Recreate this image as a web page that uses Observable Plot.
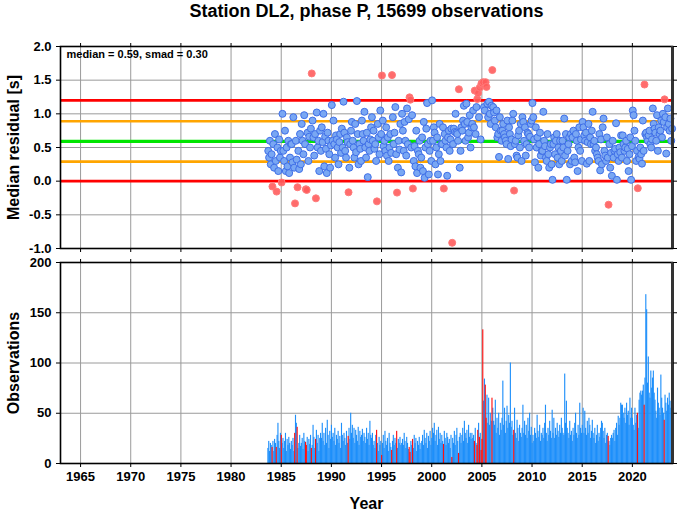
<!DOCTYPE html>
<html><head><meta charset="utf-8">
<script src="https://cdn.jsdelivr.net/npm/d3@7"></script>
<script src="https://cdn.jsdelivr.net/npm/@observablehq/plot@0.6"></script>
<style>
body{margin:0;background:#fff;}
#chart{position:relative;width:678px;height:511px;background:#fff;}
#chart svg{position:absolute;left:0;}
</style></head><body><div id="chart"></div>
<script>
const title = "Station DL2, phase P, 15699 observations";
const firstYear = 1983, firstMonth = 9; // monthly series starts September 1983
const median = 0.59, smad = 0.30, upperLimit = 1.2, lowerLimit = 0.0;
const yearTicks = [1965, 1970, 1975, 1980, 1985, 1990, 1995, 2000, 2005, 2010, 2015, 2020];
const residualTicks = [-1.0, -0.5, 0.0, 0.5, 1.0, 1.5, 2.0];
const countTicks = [0, 50, 100, 150, 200];

// monthly median residual [s]
const residuals = [
  0.45, 0.35, 0.60, 0.25,
  0.40, -0.08, 0.55, 0.20, 0.70, 0.30, -0.155, 0.50, 0.15, 0.62, 0.35, 0.45,
  -0.02, 1.00, 0.45, 0.30, 0.75, 0.15, 0.50, 0.22, 0.60, 0.12, 0.35, 0.55,
  0.55, 0.28, 0.95, 0.20, -0.33, 0.60, 0.32, -0.09, 0.45, 0.18, 0.70, 0.25,
  0.85, 0.60, 0.40, 0.98, 0.55, -0.12, -0.13, 0.72, 0.30, 0.66, 0.50, 0.78,
  1.60, 0.90, 0.65, 0.38, 0.70, -0.255, 1.02, 0.50, 0.60, 0.15, 0.75, 0.45,
  0.80, 0.58, 1.00, 0.22, 0.66, 0.48, 0.12, 0.72, 0.60, 0.40, 0.20, 0.53,
  1.13, 0.60, 0.90, 0.55, 0.35, 0.68, 0.62, 0.50, 0.25, 0.58, 0.70, 0.42,
  0.78, 0.50, 1.18, 0.72, 0.45, 0.35, 0.65, 0.58, -0.165, 0.20, 0.55, 0.75,
  0.88, 0.60, 0.50, 0.35, 0.85, 0.43, 1.19, 0.70, 0.25, 0.55, 0.48, 0.30,
  0.90, 0.70, 0.60, 1.03, 0.50, 0.35, 0.72, 0.06, 0.55, 0.45, 0.62, 0.80,
  0.95, 0.60, 0.75, 0.48, 0.55, 0.30, -0.30, 0.85, 0.65, 0.40, 1.05, 0.70,
  1.57, 0.90, 0.52, 0.60, 0.45, 0.80, 0.38, 0.65, 0.30, 0.50, 0.70, 0.42,
  1.575, 0.95, 0.55, 0.72, 1.10, 0.40, -0.17, 0.20, 0.60, 0.47, 0.85, 0.13,
  1.00, 0.75, 0.45, 0.88, 0.60, 0.38, 1.08, 0.55, 0.92, 1.245, 1.21, 0.50,
  0.98, -0.11, 0.30, 0.52, 0.22, 0.75, 0.12, 0.45, 0.40, 0.60, 0.20, 0.35,
  0.65, 0.15, 0.88, 0.05, 0.50, 0.78, 1.16, 0.55, 0.10, 0.45, 0.60, 0.30,
  1.20, 0.60, 0.80, 0.72, 0.25, 0.50, 0.65, 0.10, 0.40, 0.85, 0.30, 0.55,
  0.55, 0.80, -0.11, 0.70, 0.60, 0.50, 0.08, 0.65, 0.75, 0.45, 0.62, 0.78,
  -0.915, 0.55, 0.78, 0.73, 1.00, 0.72, 0.70, 0.60, 1.365, 0.20, 0.45, 0.80,
  0.75, 0.90, 1.12, 0.85, 0.60, 1.15, 0.88, 0.65, 0.72, 0.98, 0.50, 0.80,
  0.85, 1.05, 0.80, 1.345, 0.70, 1.10, 1.22, 1.31, 0.95, 1.39, 0.62, 1.45,
  1.45, 1.47, 1.10, 1.05, 1.47, 1.40, 1.15, 0.95, 1.18, 1.00, 0.85, 1.12,
  1.65, 1.10, 1.02, 0.90, 0.80, 1.05, 0.65, 0.70, 0.36, 0.95, 0.75, 0.60,
  0.75, 0.85, 0.70, 0.65, 0.60, 0.55, 0.90, 0.33, 0.80, 0.70, 0.52, 0.62,
  0.90, 1.00, -0.14, 0.55, 0.60, 0.38, 0.35, 0.68, 0.75, 0.50, 0.85, 0.30,
  0.95, 0.88, 0.60, 0.80, 0.38, 0.55, 0.72, 0.70, 0.50, 0.66, 0.85, 0.90,
  1.16, 0.95, 0.62, 0.28, 0.80, 0.50, 0.65, 0.20, 0.55, 0.72, 0.38, 0.45,
  0.45, 1.03, 0.60, 0.52, 0.35, 0.30, 0.70, 0.40, 0.20, 0.50, 0.55, 0.25,
  0.02, 0.55, 0.65, 0.40, 0.60, 0.70, 0.35, 0.50, 0.25, 0.60, 0.45, 0.30,
  0.60, 0.50, 0.93, 0.38, 0.70, 0.02, 0.45, 0.55, 0.65, 0.25, 0.70, 0.30,
  0.65, 0.75, 0.35, 0.28, 0.70, 0.60, 0.15, 0.50, 0.80, 0.45, 0.62, 0.30,
  0.88, 0.80, 0.68, 0.60, 0.72, 0.26, 0.58, 0.85, 0.30, 0.65, 0.55, 0.75,
  1.03, 0.55, 0.60, 0.45, 0.50, 0.40, 0.35, 0.30, 0.70, 0.16, 0.62, 0.25,
  0.80, 0.93, 0.45, 0.38, 0.30, 0.65, 0.35, -0.35, 0.55, 0.20, 0.42, 0.08,
  0.60, 0.35, 0.45, 0.48, 0.86, 0.02, 0.40, 0.30, 0.50, 0.43, 0.68, 0.35,
  0.68, 0.55, 0.45, 0.50, 0.60, 0.30, 0.48, 0.15, 0.40, 0.65, 0.02, 0.52,
  1.05, 0.98, 0.75, 0.60, 0.30, 0.45, -0.105, 0.36, 0.33, 0.50, 0.40, 0.26,
  0.90, 0.45, 1.435, 0.70, 0.72, 0.65, 0.60, 0.68, 0.75, 0.55, 0.50, 0.62,
  1.08, 0.85, 0.78, 0.72, 0.60, 0.98, 0.45, 0.80, 0.70, 0.75, 0.90, 0.65,
  1.00, 0.88, 1.215, 0.95, 0.41, 0.80, 1.08, 0.85, 0.75, 0.93, 0.60, 0.78
];

// monthly number of observations
const counts = [
  15, 22, 12, 20,
  18, 16, 22, 12, 24, 20, 16, 28, 40, 22, 15, 30,
  28, 20, 25, 15, 22, 30, 12, 24, 18, 26, 20, 14,
  22, 18, 25, 12, 30, 48, 40, 36, 15, 20, 28, 17,
  20, 25, 14, 30, 22, 21, 18, 26, 12, 24, 19, 28,
  15, 18, 38, 26, 15, 24, 33, 20, 28, 12, 25, 30,
  25, 40, 22, 30, 18, 35, 20, 43, 28, 15, 32, 24,
  38, 26, 30, 22, 35, 18, 28, 24, 32, 20, 27, 15,
  40, 28, 22, 30, 25, 18, 32, 20, 27, 35, 24, 50,
  30, 38, 25, 35, 20, 33, 28, 22, 36, 18, 32, 26,
  28, 34, 22, 30, 26, 20, 35, 24, 30, 18, 42, 28,
  25, 30, 18, 22, 15, 28, 33, 20, 12, 26, 18, 22,
  8, 20, 28, 15, 32, 22, 18, 25, 12, 30, 20, 16,
  13, 22, 28, 18, 25, 20, 32, 15, 24, 20, 26, 18,
  20, 24, 18, 30, 22, 15, 26, 20, 14, 16, 11, 22,
  18, 24, 15, 28, 20, 25, 12, 22, 18, 26, 14, 20,
  22, 28, 18, 33, 25, 20, 30, 15, 27, 22, 32, 18,
  25, 35, 30, 40, 22, 28, 33, 18, 36, 24, 30, 20,
  28, 22, 19, 32, 25, 18, 30, 26, 20, 24, 15, 28,
  6, 25, 20, 32, 18, 28, 35, 22, 10, 26, 30, 20,
  28, 35, 22, 42, 30, 25, 33, 20, 38, 26, 30, 24,
  30, 25, 28, 22, 35, 20, 18, 33, 40, 26, 30, 13,
  24, 133, 62, 84, 78, 45, 68, 40, 65, 38, 50, 42,
  65, 55, 42, 38, 63, 30, 45, 35, 50, 28, 40, 33,
  45, 82, 38, 55, 30, 42, 57, 35, 48, 40, 100, 36,
  42, 28, 33, 55, 30, 25, 43, 35, 22, 38, 30, 26,
  35, 58, 30, 42, 28, 38, 25, 45, 32, 50, 28, 36,
  20, 28, 22, 35, 30, 25, 48, 32, 26, 38, 22, 30,
  28, 35, 25, 40, 58, 30, 22, 35, 28, 42, 32, 25,
  53, 30, 45, 25, 35, 28, 40, 32, 26, 38, 30, 45,
  35, 30, 28, 89, 40, 62, 35, 30, 25, 42, 28, 32,
  22, 35, 28, 40, 50, 30, 25, 38, 28, 60, 35, 30,
  38, 55, 30, 52, 35, 28, 42, 30, 45, 38, 25, 32,
  43, 30, 25, 35, 20, 28, 38, 22, 30, 26, 35, 42,
  40, 32, 25, 35, 20, 28, 30, 27, 22, 18, 25, 28,
  25, 30, 33, 22, 35, 40, 28, 47, 38, 45, 60, 58,
  58, 50, 45, 55, 40, 60, 48, 52, 38, 65, 45, 55,
  45, 38, 33, 55, 40, 48, 50, 35, 63, 70, 72, 68,
  72, 78, 58, 85, 168, 153, 80, 106, 70, 65, 92, 75,
  85, 92, 70, 63, 52, 45, 75, 60, 55, 48, 88, 65,
  55, 50, 43, 68, 60, 52, 65, 58, 70, 62, 55, 50
];

const months = residuals.map((r, i) => ({
  t: firstYear + (firstMonth - 1 + i) / 12,
  r, n: counts[i],
  out: r < lowerLimit || r > upperLimit
}));

const FONT = "'Liberation Sans', Arial, Helvetica, sans-serif";
const W = 678, ML = 60, MR = 6;
const xDomain = [1963, 2024];
const gridColor = "#9a9a9a";
const barWidth = 1.35 / 12;

const topPlot = Plot.plot({
  width: W, height: 255, marginLeft: ML, marginRight: MR, marginTop: 46, marginBottom: 7,
  style: {fontFamily: FONT, fontSize: "13px", fontWeight: "bold", background: "transparent", overflow: "visible"},
  x: {domain: xDomain},
  y: {domain: [-1, 2]},
  marks: [
    Plot.gridX(yearTicks, {stroke: gridColor, strokeOpacity: 1, strokeWidth: 1}),
    Plot.gridY(residualTicks, {stroke: gridColor, strokeOpacity: 1, strokeWidth: 1}),
    Plot.ruleY([lowerLimit, upperLimit], {stroke: "#ff0000", strokeWidth: 2.6}),
    Plot.ruleY([median - smad, median + smad], {stroke: "#ffa500", strokeWidth: 2.6}),
    Plot.ruleY([median], {stroke: "#00e600", strokeWidth: 3.2}),
    Plot.dot(months.filter(d => !d.out), {x: d => d.t + 1/24, y: "r", r: 3.5, fill: "#79a7f3", stroke: "#3f6fe8", strokeWidth: 1}),
    Plot.dot(months.filter(d => d.out), {x: d => d.t + 1/24, y: "r", r: 3.5, fill: "#ff5c5c", fillOpacity: 0.9, stroke: "#ff7a7a", strokeWidth: 1}),
    Plot.frame({stroke: "#000", strokeWidth: 1.6}),
    Plot.ruleX([xDomain[1]], {stroke: "#333", strokeWidth: 3}),
    Plot.axisX(yearTicks, {anchor: "bottom", tickFormat: () => "", tickSize: 4, label: null}),
    Plot.axisX(yearTicks, {anchor: "top", tickFormat: () => "", tickSize: 4, label: null}),
    Plot.axisY(residualTicks, {anchor: "left", tickFormat: d => d.toFixed(1), tickSize: 4, tickPadding: 5, label: null, fontSize: 13, fontWeight: "bold"}),
    Plot.axisY(residualTicks, {anchor: "right", tickFormat: () => "", tickSize: 4, label: null}),
    Plot.text([title], {frameAnchor: "top", lineAnchor: "middle", dy: -35, fontSize: 18, fontWeight: "bold", fill: "#000"}),
    Plot.text([`median = ${median.toFixed(2)}, smad = ${smad.toFixed(2)}`], {frameAnchor: "top-left", textAnchor: "start", dx: 6, dy: 4, fontSize: 11, fontWeight: "bold", fill: "#000"}),
    Plot.text(["Median residual [s]"], {frameAnchor: "left", textAnchor: "middle", lineAnchor: "middle", rotate: -90, dx: -47, fontSize: 16, fontWeight: "bold", fill: "#000"})
  ]
});

const bottomPlot = Plot.plot({
  width: W, height: 256, marginLeft: ML, marginRight: MR, marginTop: 7, marginBottom: 48,
  style: {fontFamily: FONT, fontSize: "13px", fontWeight: "bold", background: "transparent", overflow: "visible"},
  x: {domain: xDomain},
  y: {domain: [0, 200]},
  marks: [
    Plot.gridX(yearTicks, {stroke: gridColor, strokeOpacity: 1, strokeWidth: 1}),
    Plot.gridY(countTicks, {stroke: gridColor, strokeOpacity: 1, strokeWidth: 1}),
    Plot.rectY(months.filter(d => !d.out), {x1: "t", x2: d => d.t + barWidth, y: "n", fill: "#1e8ffa", fillOpacity: 1}),
    Plot.rectY(months.filter(d => d.out), {x1: "t", x2: d => d.t + barWidth, y: "n", fill: "#ff1010"}),
    Plot.frame({stroke: "#000", strokeWidth: 1.6}),
    Plot.ruleX([xDomain[1]], {stroke: "#333", strokeWidth: 3}),
    Plot.axisX(yearTicks, {anchor: "bottom", tickFormat: d => String(d), tickSize: 4, tickPadding: 4, label: null, fontSize: 13, fontWeight: "bold"}),
    Plot.axisX(yearTicks, {anchor: "top", tickFormat: () => "", tickSize: 4, label: null}),
    Plot.axisY(countTicks, {anchor: "left", tickFormat: d => String(d), tickSize: 4, tickPadding: 5, label: null, fontSize: 13, fontWeight: "bold"}),
    Plot.axisY(countTicks, {anchor: "right", tickFormat: () => "", tickSize: 4, label: null}),
    Plot.text(["Observations"], {frameAnchor: "left", textAnchor: "middle", lineAnchor: "middle", rotate: -90, dx: -47, fontSize: 16, fontWeight: "bold", fill: "#000"}),
    Plot.text(["Year"], {frameAnchor: "bottom", lineAnchor: "middle", dy: 40, fontSize: 16, fontWeight: "bold", fill: "#000"})
  ]
});

const chart = document.getElementById("chart");
topPlot.style.top = "0px";
bottomPlot.style.top = "255px";
chart.appendChild(topPlot);
chart.appendChild(bottomPlot);
</script>
</body></html>
